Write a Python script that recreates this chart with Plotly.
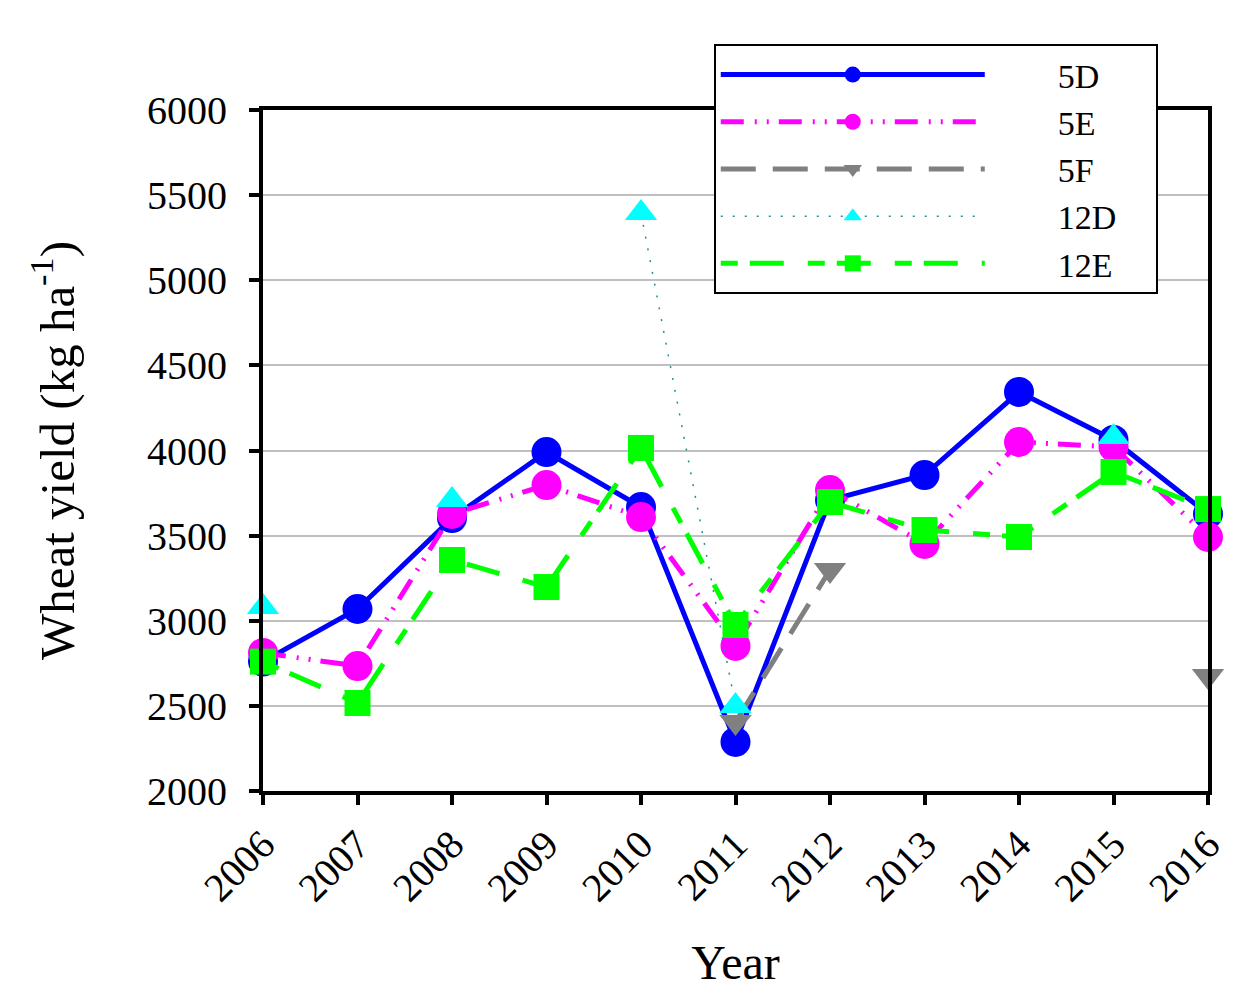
import plotly.graph_objects as go

years = [2006, 2007, 2008, 2009, 2010, 2011, 2012, 2013, 2014, 2015, 2016]
y_5D = [2760, 3069, 3603, 3991, 3668, 2288, 3709, 3856, 4344, 4062, 3627]
y_5E = [2811, 2734, 3627, 3797, 3609, 2852, 3768, 3451, 4050, 4021, 3492]
y_5F = [None, None, None, None, None, 2405, 3298, None, None, None, 2675]
y_12D = [3081, None, 3709, None, 5395, 2499, None, None, None, 4079, None]
y_12E = [2760, 2517, 3357, 3198, 4015, 2975, 3697, 3533, 3492, 3874, 3656]
names = ["5D", "5E", "5F", "12D", "12E"]

FONT = "Liberation Serif"
SP = "\u2003\u2003"

fig = go.Figure()
series = [
    (y_5D, dict(color="#0000ff", width=5, dash="solid"), dict(symbol="circle", color="#0000ff", size=30)),
    (y_5E, dict(color="#ff00ff", width=5, dash="23px,11px,2px,10px,2px,10px"), dict(symbol="circle", color="#ff00ff", size=30)),
    (y_5F, dict(color="#808080", width=5, dash="35px,17px"), dict(symbol="triangle-down", color="#808080", size=28)),
    (y_12D, dict(color="#208f8f", width=1.5, dash="2px,10px"), dict(symbol="triangle-up", color="#00ffff", size=28)),
    (y_12E, dict(color="#00ff00", width=5, dash="17px,12px,34px,24px"), dict(symbol="square", color="#00ff00", size=26)),
]
for name, (ys, line, marker) in zip(names, series):
    fig.add_trace(go.Scatter(x=years, y=ys, name=SP + name + "\u2003", mode="lines+markers",
                             line=line, marker=dict(line=dict(width=0), **marker),
                             connectgaps=False, cliponaxis=False))

fig.update_layout(
    width=1237, height=981,
    margin=dict(l=255, r=37, t=102, b=198, autoexpand=False),
    paper_bgcolor="white", plot_bgcolor="white",
    font=dict(family=FONT, size=40, color="black"),
    showlegend=True,
    legend=dict(x=0.477, y=1.097, xanchor="left", yanchor="top",
                bordercolor="black", borderwidth=2, bgcolor="white",
                itemwidth=264, font=dict(size=34, family=FONT),
                itemsizing="trace"),
    xaxis=dict(range=[2006, 2016], tickvals=years, ticktext=[str(y) for y in years],
               tickangle=-45, ticks="outside", ticklen=10, tickwidth=4, tickcolor="black",
               showline=True, linecolor="black", linewidth=4, mirror=True, automargin=False,
               showgrid=False, zeroline=False, tickfont=dict(size=40),
               title=dict(text="Year", font=dict(size=48, family=FONT), standoff=42)),
    yaxis=dict(range=[2000, 6000], dtick=500, ticks="outside", ticklen=10, tickwidth=4,
               tickcolor="black", showline=True, linecolor="black", linewidth=4, mirror=True,
               showgrid=True, gridcolor="#c0c0c0", gridwidth=2, zeroline=False, automargin=False,
               tickfont=dict(size=40), ticklabelstandoff=14,
               title=dict(text="Wheat yield (kg ha<sup>-1</sup>)", font=dict(size=49, family=FONT), standoff=58)),
)

fig.write_html("out.html")
